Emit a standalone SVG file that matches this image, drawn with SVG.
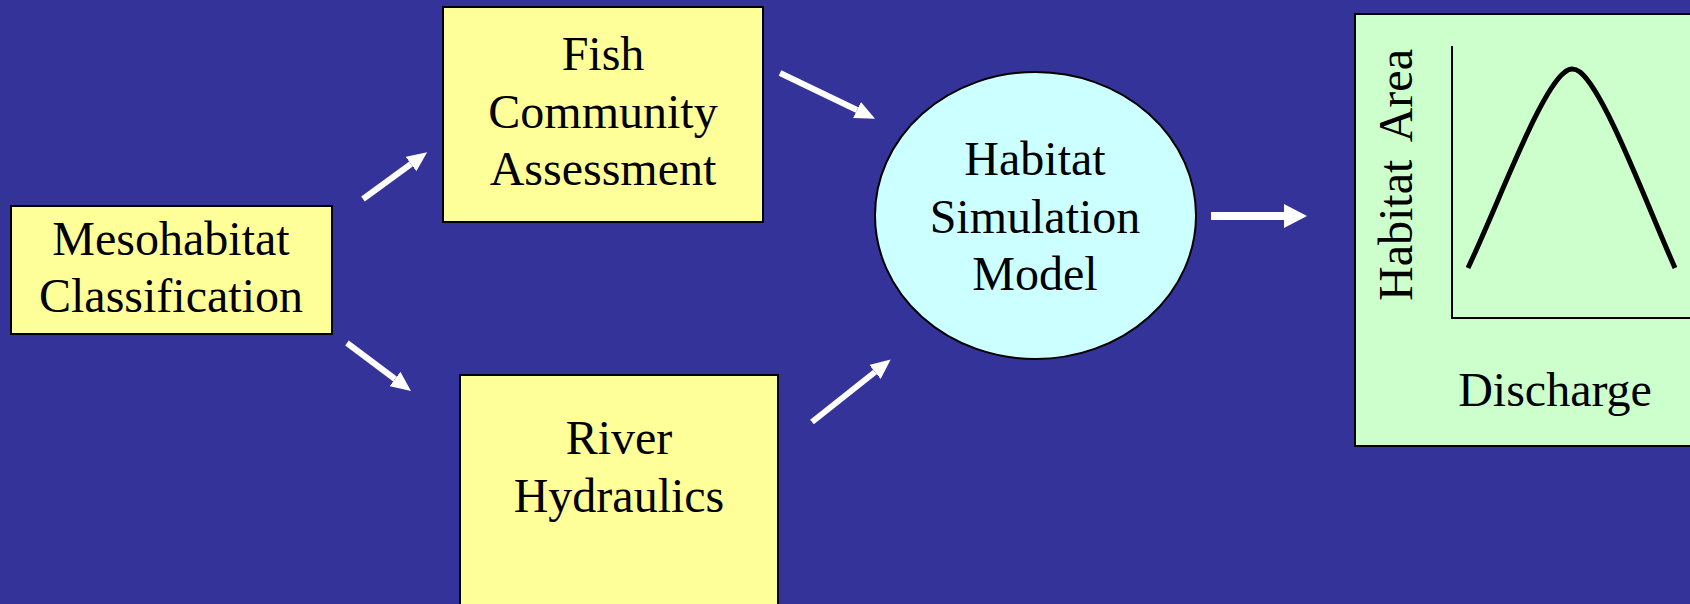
<svg xmlns="http://www.w3.org/2000/svg" width="1690" height="604" viewBox="0 0 1690 604">
<style>
.box{stroke:#000;stroke-width:2}
.yel{fill:#FFFF99}
.t{font-family:"Liberation Serif","Times New Roman",serif;font-size:48px;fill:#000;text-anchor:middle}
.arr{stroke:#fff;stroke-width:6;fill:none;marker-end:url(#ah)}
</style>
<defs>
<marker id="ah" viewBox="0 0 20 18" refX="0" refY="9" markerWidth="20" markerHeight="18" markerUnits="userSpaceOnUse" orient="auto">
<path d="M0,0 L20,9 L0,18 Z" fill="#fff"/>
</marker>
<marker id="ah2" viewBox="0 0 23 24" refX="0" refY="12" markerWidth="23" markerHeight="24" markerUnits="userSpaceOnUse" orient="auto">
<path d="M0,0 L23,12 L0,24 Z" fill="#fff"/>
</marker>
</defs>
<rect width="1690" height="604" fill="#333399"/>
<g id="connectors">
<line class="arr" x1="363" y1="199" x2="411" y2="164"/>
<line class="arr" x1="347" y1="343" x2="395" y2="379"/>
<line class="arr" x1="780" y1="73" x2="857" y2="110"/>
<line class="arr" x1="812" y1="422" x2="875" y2="372"/>
<line class="arr" x1="1211" y1="216" x2="1284" y2="216" style="stroke-width:8;marker-end:url(#ah2)"/>
</g>
<g id="mesohabitat">
<rect class="box yel" x="11" y="206" width="321" height="128"/>
<text class="t" x="171" y="255">Mesohabitat</text>
<text class="t" x="171" y="312">Classification</text>
</g>
<g id="fish">
<rect class="box yel" x="443" y="7" width="320" height="215"/>
<text class="t" x="603" y="70">Fish</text>
<text class="t" x="603" y="128">Community</text>
<text class="t" x="603" y="185">Assessment</text>
</g>
<g id="river">
<rect class="box yel" x="460" y="375" width="318" height="260"/>
<text class="t" x="619" y="454">River</text>
<text class="t" x="619" y="512">Hydraulics</text>
</g>
<g id="habitat-model">
<ellipse class="box" cx="1035.5" cy="215.5" rx="160.5" ry="143.5" fill="#CCFFFF"/>
<text class="t" x="1035" y="175">Habitat</text>
<text class="t" x="1035" y="233">Simulation</text>
<text class="t" x="1035" y="290">Model</text>
</g>
<g id="chart">
<rect class="box" x="1355" y="14" width="360" height="432" fill="#CCFFCC"/>
<path d="M1452,46 L1452,318 L1700,318" fill="none" stroke="#000" stroke-width="2"/>
<path d="M1468,268 C1500,200 1540,90 1565,72 Q1572,66 1580,72 C1605,92 1645,200 1675,268" fill="none" stroke="#000" stroke-width="5"/>
<text class="t" transform="translate(1412,175) rotate(-90)" x="0" y="0" style="word-spacing:8px">Habitat Area</text>
<text class="t" x="1555" y="406">Discharge</text>
</g>
</svg>
